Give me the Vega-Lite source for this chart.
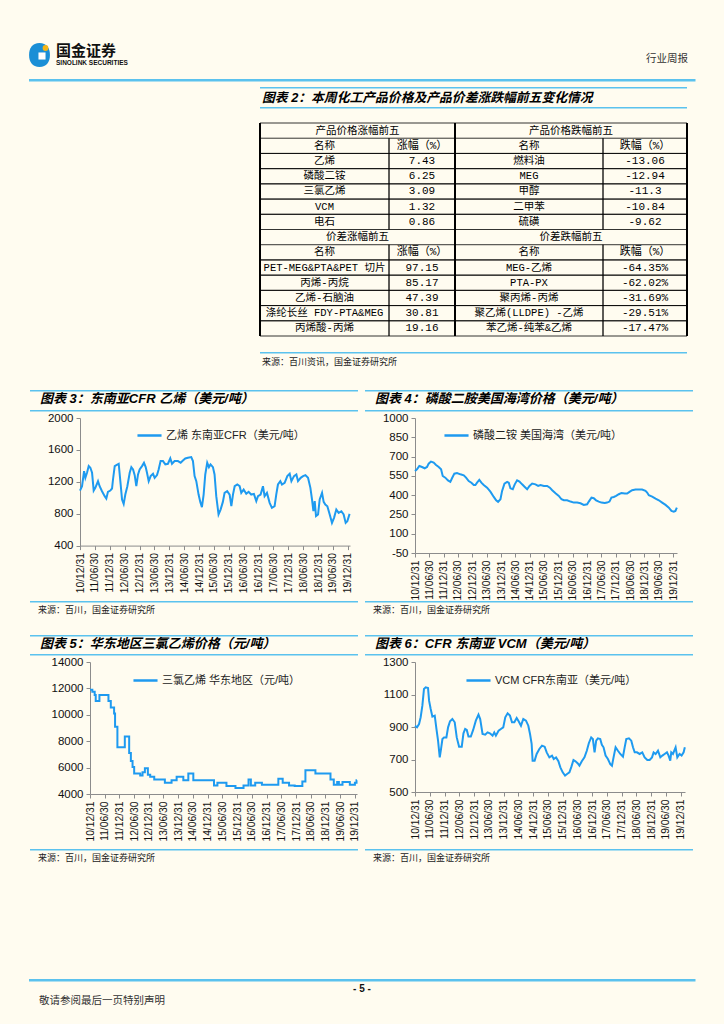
{
"$schema":"https://vega.github.io/schema/vega-lite/v6.json",
"background":"#fffcf0",
"padding":0,
"spacing":0,
"resolve":{"scale":{"color":"independent"},"legend":{"color":"independent"}},
"config":{
 "view":{"stroke":null},
 "concat":{"spacing":0},
 "axisX":{"labelFont":"Liberation Sans","labelFontSize":10.3,"labelColor":"#111","labelPadding":3,"labelOverlap":false,"labelFlush":false,"tickSize":4,"tickColor":"#8c8c8c","domainColor":"#8c8c8c","grid":false,"title":null},
 "axisY":{"labelFont":"Liberation Sans","labelFontSize":11.5,"labelColor":"#111","labelPadding":3,"labelOverlap":false,"tickSize":4,"tickColor":"#8c8c8c","domainColor":"#8c8c8c","grid":false,"title":null},
 "legend":{"title":null,"symbolType":"stroke","symbolSize":580,"symbolStrokeWidth":2.5,"labelFont":"Liberation Sans, Noto Sans CJK SC","labelFontSize":11,"labelColor":"#222","labelOffset":3,"labelLimit":300,"padding":0}
},
"datasets":{
 "tbl":[
  {"c":"n1","r":0,"sp":1,"t":"产品价格涨幅前五"},{"c":"v1","r":0,"sp":1,"t":""},{"c":"n2","r":0,"sp":1,"t":"产品价格跌幅前五"},{"c":"v2","r":0,"sp":1,"t":""},
  {"c":"n1","r":1,"sp":0,"t":"名称"},{"c":"v1","r":1,"sp":0,"t":"涨幅（%）"},{"c":"n2","r":1,"sp":0,"t":"名称"},{"c":"v2","r":1,"sp":0,"t":"跌幅（%）"},
  {"c":"n1","r":2,"sp":0,"t":"乙烯"},{"c":"v1","r":2,"sp":0,"t":"7.43"},{"c":"n2","r":2,"sp":0,"t":"燃料油"},{"c":"v2","r":2,"sp":0,"t":"-13.06"},
  {"c":"n1","r":3,"sp":0,"t":"磷酸二铵"},{"c":"v1","r":3,"sp":0,"t":"6.25"},{"c":"n2","r":3,"sp":0,"t":"MEG"},{"c":"v2","r":3,"sp":0,"t":"-12.94"},
  {"c":"n1","r":4,"sp":0,"t":"三氯乙烯"},{"c":"v1","r":4,"sp":0,"t":"3.09"},{"c":"n2","r":4,"sp":0,"t":"甲醇"},{"c":"v2","r":4,"sp":0,"t":"-11.3"},
  {"c":"n1","r":5,"sp":0,"t":"VCM"},{"c":"v1","r":5,"sp":0,"t":"1.32"},{"c":"n2","r":5,"sp":0,"t":"二甲苯"},{"c":"v2","r":5,"sp":0,"t":"-10.84"},
  {"c":"n1","r":6,"sp":0,"t":"电石"},{"c":"v1","r":6,"sp":0,"t":"0.86"},{"c":"n2","r":6,"sp":0,"t":"硫磺"},{"c":"v2","r":6,"sp":0,"t":"-9.62"},
  {"c":"n1","r":7,"sp":1,"t":"价差涨幅前五"},{"c":"v1","r":7,"sp":1,"t":""},{"c":"n2","r":7,"sp":1,"t":"价差跌幅前五"},{"c":"v2","r":7,"sp":1,"t":""},
  {"c":"n1","r":8,"sp":0,"t":"名称"},{"c":"v1","r":8,"sp":0,"t":"涨幅（%）"},{"c":"n2","r":8,"sp":0,"t":"名称"},{"c":"v2","r":8,"sp":0,"t":"跌幅（%）"},
  {"c":"n1","r":9,"sp":0,"t":"PET-MEG&PTA&PET 切片"},{"c":"v1","r":9,"sp":0,"t":"97.15"},{"c":"n2","r":9,"sp":0,"t":"MEG-乙烯"},{"c":"v2","r":9,"sp":0,"t":"-64.35%"},
  {"c":"n1","r":10,"sp":0,"t":"丙烯-丙烷"},{"c":"v1","r":10,"sp":0,"t":"85.17"},{"c":"n2","r":10,"sp":0,"t":"PTA-PX"},{"c":"v2","r":10,"sp":0,"t":"-62.02%"},
  {"c":"n1","r":11,"sp":0,"t":"乙烯-石脑油"},{"c":"v1","r":11,"sp":0,"t":"47.39"},{"c":"n2","r":11,"sp":0,"t":"聚丙烯-丙烯"},{"c":"v2","r":11,"sp":0,"t":"-31.69%"},
  {"c":"n1","r":12,"sp":0,"t":"涤纶长丝 FDY-PTA&MEG"},{"c":"v1","r":12,"sp":0,"t":"30.81"},{"c":"n2","r":12,"sp":0,"t":"聚乙烯(LLDPE) -乙烯"},{"c":"v2","r":12,"sp":0,"t":"-29.51%"},
  {"c":"n1","r":13,"sp":0,"t":"丙烯酸-丙烯"},{"c":"v1","r":13,"sp":0,"t":"19.16"},{"c":"n2","r":13,"sp":0,"t":"苯乙烯-纯苯&乙烯"},{"c":"v2","r":13,"sp":0,"t":"-17.47%"}
 ],
 "c3":[
  {"d":"2010/12/31","v":1090},{"d":"2011/01/25","v":1145},{"d":"2011/02/19","v":1334},{"d":"2011/03/07","v":1250},{"d":"2011/03/27","v":1313},{"d":"2011/04/17","v":1397},{"d":"2011/05/07","v":1376},{"d":"2011/05/28","v":1313},{"d":"2011/06/17","v":1090},{"d":"2011/07/07","v":1124},{"d":"2011/08/09","v":1208},{"d":"2011/08/29","v":1145},{"d":"2011/09/27","v":1082},{"d":"2011/10/30","v":1020},{"d":"2011/11/19","v":990},{"d":"2011/12/09","v":1074},
  {"d":"2012/01/07","v":1090},{"d":"2012/01/28","v":1116},{"d":"2012/02/09","v":1229},{"d":"2012/03/01","v":1397},{"d":"2012/03/21","v":1409},{"d":"2012/04/19","v":1426},{"d":"2012/05/09","v":1208},{"d":"2012/05/30","v":978},{"d":"2012/06/19","v":923},{"d":"2012/07/09","v":1040},{"d":"2012/08/03","v":1145},{"d":"2012/09/01","v":1313},{"d":"2012/09/21","v":1384},{"d":"2012/10/12","v":1355},{"d":"2012/11/01","v":1284},{"d":"2012/11/21","v":1145},{"d":"2012/12/12","v":1292},
  {"d":"2013/01/01","v":1355},{"d":"2013/01/30","v":1397},{"d":"2013/02/23","v":1439},{"d":"2013/03/16","v":1384},{"d":"2013/04/01","v":1313},{"d":"2013/04/22","v":1208},{"d":"2013/05/16","v":1271},{"d":"2013/06/14","v":1300},{"d":"2013/07/04","v":1250},{"d":"2013/08/02","v":1284},{"d":"2013/08/22","v":1355},{"d":"2013/09/15","v":1460},{"d":"2013/10/14","v":1460},{"d":"2013/11/12","v":1418},{"d":"2013/12/14","v":1426},
  {"d":"2014/01/12","v":1493},{"d":"2014/02/02","v":1426},{"d":"2014/03/06","v":1460},{"d":"2014/04/16","v":1460},{"d":"2014/05/19","v":1439},{"d":"2014/06/16","v":1468},{"d":"2014/07/15","v":1493},{"d":"2014/08/16","v":1501},{"d":"2014/09/26","v":1510},{"d":"2014/10/17","v":1460},{"d":"2014/11/06","v":1271},{"d":"2014/11/27","v":1208},{"d":"2014/12/25","v":1040},
  {"d":"2015/01/15","v":948},{"d":"2015/02/04","v":881},{"d":"2015/02/25","v":1040},{"d":"2015/03/17","v":1292},{"d":"2015/04/10","v":1439},{"d":"2015/05/01","v":1384},{"d":"2015/05/21","v":1418},{"d":"2015/06/19","v":1384},{"d":"2015/07/09","v":1292},{"d":"2015/07/30","v":1020},{"d":"2015/08/27","v":791},{"d":"2015/09/21","v":852},{"d":"2015/10/19","v":948},{"d":"2015/11/09","v":1061},{"d":"2015/12/11","v":1082},
  {"d":"2016/01/10","v":1040},{"d":"2016/01/31","v":894},{"d":"2016/02/20","v":1040},{"d":"2016/03/12","v":1145},{"d":"2016/04/13","v":1166},{"d":"2016/05/12","v":1145},{"d":"2016/06/01","v":1061},{"d":"2016/06/30","v":1103},{"d":"2016/08/01","v":1049},{"d":"2016/08/30","v":1074},{"d":"2016/10/01","v":1040},{"d":"2016/11/03","v":1049},{"d":"2016/12/02","v":957},{"d":"2016/12/23","v":1020},
  {"d":"2017/01/24","v":1040},{"d":"2017/02/22","v":1145},{"d":"2017/03/14","v":1020},{"d":"2017/04/12","v":1061},{"d":"2017/05/15","v":936},{"d":"2017/06/12","v":873},{"d":"2017/07/15","v":894},{"d":"2017/08/04","v":1040},{"d":"2017/08/25","v":1166},{"d":"2017/09/23","v":1208},{"d":"2017/10/13","v":1166},{"d":"2017/11/15","v":1187},{"d":"2017/12/18","v":1271},
  {"d":"2018/01/16","v":1300},{"d":"2018/02/06","v":1208},{"d":"2018/03/10","v":1271},{"d":"2018/04/08","v":1292},{"d":"2018/04/28","v":1208},{"d":"2018/05/31","v":1250},{"d":"2018/06/29","v":1271},{"d":"2018/07/28","v":1284},{"d":"2018/08/29","v":1250},{"d":"2018/09/27","v":1124},{"d":"2018/10/17","v":978},{"d":"2018/11/03","v":831},{"d":"2018/11/19","v":957},{"d":"2018/12/05","v":770},{"d":"2018/12/30","v":791},
  {"d":"2019/01/19","v":978},{"d":"2019/02/17","v":1061},{"d":"2019/03/09","v":948},{"d":"2019/03/29","v":915},{"d":"2019/04/23","v":894},{"d":"2019/05/22","v":791},{"d":"2019/06/19","v":685},{"d":"2019/07/14","v":748},{"d":"2019/08/11","v":852},{"d":"2019/09/09","v":810},{"d":"2019/10/12","v":831},{"d":"2019/11/09","v":791},{"d":"2019/12/04","v":685},{"d":"2019/12/24","v":706},{"d":"2020/01/21","v":798}
 ],
 "c4":[
  {"d":"2010/12/31","v":588},{"d":"2011/01/25","v":601},{"d":"2011/02/24","v":627},{"d":"2011/03/30","v":619},{"d":"2011/05/03","v":609},{"d":"2011/06/02","v":619},{"d":"2011/06/23","v":645},{"d":"2011/07/22","v":661},{"d":"2011/08/26","v":653},{"d":"2011/09/25","v":635},{"d":"2011/10/29","v":619},{"d":"2011/11/28","v":601},{"d":"2011/12/19","v":549},
  {"d":"2012/01/21","v":536},{"d":"2012/02/24","v":515},{"d":"2012/03/25","v":503},{"d":"2012/04/15","v":531},{"d":"2012/05/15","v":567},{"d":"2012/06/18","v":572},{"d":"2012/07/31","v":562},{"d":"2012/09/12","v":554},{"d":"2012/10/11","v":536},{"d":"2012/11/14","v":510},{"d":"2012/12/18","v":497},
  {"d":"2013/01/17","v":479},{"d":"2013/02/07","v":479},{"d":"2013/02/28","v":497},{"d":"2013/03/29","v":518},{"d":"2013/04/24","v":497},{"d":"2013/05/24","v":479},{"d":"2013/07/06","v":458},{"d":"2013/08/17","v":427},{"d":"2013/09/29","v":386},{"d":"2013/10/29","v":360},{"d":"2013/11/23","v":347},{"d":"2013/12/23","v":368},
  {"d":"2014/01/13","v":433},{"d":"2014/02/12","v":490},{"d":"2014/03/18","v":503},{"d":"2014/04/08","v":497},{"d":"2014/04/29","v":453},{"d":"2014/05/29","v":446},{"d":"2014/06/23","v":484},{"d":"2014/07/23","v":515},{"d":"2014/08/22","v":505},{"d":"2014/09/25","v":484},{"d":"2014/10/29","v":464},{"d":"2014/11/28","v":446},{"d":"2014/12/28","v":472},
  {"d":"2015/01/31","v":490},{"d":"2015/03/14","v":484},{"d":"2015/04/17","v":472},{"d":"2015/05/17","v":479},{"d":"2015/06/29","v":472},{"d":"2015/08/10","v":472},{"d":"2015/09/13","v":458},{"d":"2015/10/13","v":438},{"d":"2015/11/24","v":414},
  {"d":"2016/01/05","v":394},{"d":"2016/02/08","v":368},{"d":"2016/03/09","v":360},{"d":"2016/04/20","v":360},{"d":"2016/06/02","v":350},{"d":"2016/07/14","v":342},{"d":"2016/08/25","v":342},{"d":"2016/10/07","v":337},{"d":"2016/11/18","v":324},{"d":"2016/12/31","v":329},
  {"d":"2017/01/21","v":350},{"d":"2017/02/24","v":381},{"d":"2017/03/25","v":376},{"d":"2017/04/24","v":360},{"d":"2017/05/28","v":350},{"d":"2017/07/01","v":342},{"d":"2017/08/12","v":339},{"d":"2017/09/11","v":342},{"d":"2017/10/11","v":350},{"d":"2017/11/05","v":381},{"d":"2017/12/05","v":386},
  {"d":"2018/01/04","v":394},{"d":"2018/02/07","v":407},{"d":"2018/03/13","v":417},{"d":"2018/04/24","v":412},{"d":"2018/05/24","v":412},{"d":"2018/06/23","v":425},{"d":"2018/07/27","v":438},{"d":"2018/09/08","v":443},{"d":"2018/10/20","v":443},{"d":"2018/12/01","v":443},
  {"d":"2019/01/13","v":433},{"d":"2019/02/03","v":420},{"d":"2019/02/24","v":399},{"d":"2019/04/08","v":389},{"d":"2019/05/21","v":373},{"d":"2019/07/02","v":360},{"d":"2019/08/13","v":342},{"d":"2019/09/25","v":324},{"d":"2019/11/06","v":303},{"d":"2019/12/09","v":277},{"d":"2020/01/08","v":272},{"d":"2020/01/29","v":277},{"d":"2020/02/16","v":303}
 ],
 "c5":[
  {"d":"2010/12/31","v":11900},{"d":"2011/01/29","v":11750},{"d":"2011/02/27","v":11500},{"d":"2011/03/12","v":11050},{"d":"2011/04/27","v":11500},{"d":"2011/08/17","v":11050},{"d":"2011/09/15","v":10550},{"d":"2011/10/26","v":10100},{"d":"2011/11/07","v":9100},{"d":"2011/12/06","v":7550},
  {"d":"2012/03/07","v":8350},{"d":"2012/04/30","v":7100},{"d":"2012/05/21","v":6500},{"d":"2012/06/11","v":6050},{"d":"2012/07/01","v":5550},{"d":"2012/09/14","v":5400},{"d":"2012/10/13","v":5650},{"d":"2012/11/11","v":5950},{"d":"2012/12/18","v":5450},
  {"d":"2013/01/16","v":5300},{"d":"2013/03/07","v":5100},{"d":"2013/07/17","v":4850},{"d":"2013/10/08","v":5050},{"d":"2013/12/10","v":5300},
  {"d":"2014/03/03","v":5050},{"d":"2014/05/04","v":5550},{"d":"2014/07/05","v":5050},
  {"d":"2015/03/19","v":4650},{"d":"2015/04/30","v":4850},{"d":"2015/08/20","v":4600},{"d":"2015/12/10","v":4450},
  {"d":"2016/03/19","v":4650},{"d":"2016/05/20","v":5100},{"d":"2016/06/18","v":4650},{"d":"2016/08/11","v":4850},{"d":"2016/11/02","v":4700},
  {"d":"2017/05/25","v":5150},{"d":"2017/07/18","v":4850},{"d":"2017/10/05","v":4650},{"d":"2017/12/14","v":4600},
  {"d":"2018/03/19","v":4950},{"d":"2018/04/26","v":5800},{"d":"2018/08/28","v":5550},
  {"d":"2019/03/03","v":5100},{"d":"2019/04/13","v":4700},{"d":"2019/05/25","v":4900},{"d":"2019/06/15","v":4700},{"d":"2019/07/30","v":4900},{"d":"2019/10/29","v":4700},{"d":"2019/12/31","v":4850},{"d":"2020/01/20","v":5050},{"d":"2020/01/25","v":5050}
 ],
 "c6":[
  {"d":"2010/12/31","v":908},{"d":"2011/01/25","v":898},{"d":"2011/02/19","v":918},{"d":"2011/03/11","v":960},{"d":"2011/04/01","v":1031},{"d":"2011/04/21","v":1134},{"d":"2011/05/12","v":1144},{"d":"2011/06/10","v":1140},{"d":"2011/06/23","v":1062},{"d":"2011/07/13","v":1011},{"d":"2011/08/03","v":964},{"d":"2011/09/01","v":970},{"d":"2011/09/22","v":888},{"d":"2011/10/12","v":816},{"d":"2011/11/02","v":713},{"d":"2011/11/18","v":765},{"d":"2011/12/05","v":826},{"d":"2011/12/25","v":836},
  {"d":"2012/01/23","v":836},{"d":"2012/02/13","v":898},{"d":"2012/03/08","v":935},{"d":"2012/04/06","v":949},{"d":"2012/05/05","v":929},{"d":"2012/05/30","v":836},{"d":"2012/06/28","v":779},{"d":"2012/07/31","v":779},{"d":"2012/08/21","v":861},{"d":"2012/09/11","v":888},{"d":"2012/10/01","v":882},{"d":"2012/10/22","v":841},{"d":"2012/11/20","v":841},{"d":"2012/12/19","v":882},
  {"d":"2013/01/21","v":939},{"d":"2013/02/23","v":976},{"d":"2013/03/16","v":949},{"d":"2013/04/14","v":857},{"d":"2013/05/17","v":853},{"d":"2013/06/15","v":867},{"d":"2013/07/14","v":861},{"d":"2013/08/16","v":847},{"d":"2013/09/06","v":867},{"d":"2013/09/26","v":847},{"d":"2013/10/29","v":877},{"d":"2013/11/27","v":888},{"d":"2013/12/26","v":898},
  {"d":"2014/01/20","v":960},{"d":"2014/02/18","v":984},{"d":"2014/03/19","v":970},{"d":"2014/04/13","v":929},{"d":"2014/05/12","v":929},{"d":"2014/06/10","v":955},{"d":"2014/07/04","v":935},{"d":"2014/08/02","v":908},{"d":"2014/08/31","v":949},{"d":"2014/10/03","v":939},{"d":"2014/11/01","v":908},{"d":"2014/11/22","v":857},{"d":"2014/12/12","v":796},{"d":"2014/12/24","v":693},
  {"d":"2015/01/18","v":693},{"d":"2015/02/12","v":734},{"d":"2015/03/17","v":765},{"d":"2015/04/19","v":785},{"d":"2015/05/22","v":779},{"d":"2015/06/16","v":744},{"d":"2015/07/19","v":713},{"d":"2015/08/21","v":724},{"d":"2015/09/11","v":703},{"d":"2015/10/10","v":713},{"d":"2015/11/08","v":689},{"d":"2015/12/02","v":652},{"d":"2015/12/31","v":621},
  {"d":"2016/01/29","v":601},{"d":"2016/02/23","v":611},{"d":"2016/03/23","v":621},{"d":"2016/04/17","v":656},{"d":"2016/05/12","v":697},{"d":"2016/06/06","v":689},{"d":"2016/07/05","v":676},{"d":"2016/07/25","v":662},{"d":"2016/08/23","v":689},{"d":"2016/09/25","v":713},{"d":"2016/10/24","v":754},{"d":"2016/11/18","v":800},{"d":"2016/12/17","v":836},
  {"d":"2017/01/07","v":826},{"d":"2017/01/28","v":744},{"d":"2017/02/17","v":816},{"d":"2017/03/10","v":830},{"d":"2017/04/08","v":826},{"d":"2017/04/28","v":791},{"d":"2017/05/19","v":775},{"d":"2017/06/13","v":724},{"d":"2017/07/12","v":703},{"d":"2017/08/10","v":672},{"d":"2017/08/31","v":662},{"d":"2017/09/24","v":724},{"d":"2017/10/15","v":775},{"d":"2017/11/13","v":754},{"d":"2017/12/12","v":734},
  {"d":"2018/01/14","v":717},{"d":"2018/02/04","v":775},{"d":"2018/02/24","v":826},{"d":"2018/03/29","v":830},{"d":"2018/04/27","v":816},{"d":"2018/05/18","v":775},{"d":"2018/06/08","v":744},{"d":"2018/07/06","v":744},{"d":"2018/08/08","v":734},{"d":"2018/09/10","v":744},{"d":"2018/10/09","v":713},{"d":"2018/11/11","v":697},{"d":"2018/12/10","v":697},
  {"d":"2019/01/08","v":713},{"d":"2019/01/28","v":744},{"d":"2019/02/22","v":734},{"d":"2019/03/23","v":754},{"d":"2019/04/21","v":713},{"d":"2019/05/16","v":724},{"d":"2019/06/13","v":734},{"d":"2019/07/12","v":744},{"d":"2019/08/01","v":724},{"d":"2019/08/22","v":693},{"d":"2019/09/03","v":744},{"d":"2019/09/24","v":734},{"d":"2019/10/27","v":775},{"d":"2019/11/17","v":713},{"d":"2019/12/15","v":734},{"d":"2020/01/09","v":724},{"d":"2020/02/03","v":744},{"d":"2020/02/18","v":775}
 ]
},
"vconcat":[
 {"width":724,"height":42.5,"data":{"values":[]},"mark":"point"},
 {"hconcat":[
   {"width":28.5,"height":24,"data":{"values":[]},"mark":"point"},
   {"width":21,"height":24,"data":{"values":[{"k":"logo"}]},"layer":[
     {"mark":{"type":"point","shape":"M0,-1C0.6,-1 0.87,-0.55 0.87,0C0.87,0.55 0.6,1 0,1C-0.6,1 -0.87,0.55 -0.87,0C-0.87,-0.55 -0.6,-1 0,-1Z","size":576,"filled":true,"color":"#1b8fd6","opacity":1},"encoding":{}},
     {"mark":{"type":"point","shape":"square","size":50,"filled":true,"color":"#ffffff","opacity":1,"xOffset":2.5,"yOffset":1},"encoding":{}},
     {"mark":{"type":"point","shape":"circle","size":34,"filled":true,"color":"#f4b517","opacity":1,"xOffset":6,"yOffset":-7},"encoding":{}}
   ]},
   {"width":5.5,"height":24,"data":{"values":[]},"mark":"point"},
   {"width":85,"height":24,"data":{"values":[{"a":"国金证券","b":"SINOLINK SECURITIES"}]},"layer":[
     {"mark":{"type":"text","align":"left","baseline":"middle","dy":-4.5,"font":"Noto Sans CJK SC","fontSize":15,"fontWeight":"bold","color":"#111"},"encoding":{"text":{"field":"a"},"x":{"datum":0,"type":"quantitative","scale":{"domain":[0,1]},"axis":null}}},
     {"mark":{"type":"text","align":"left","baseline":"middle","dy":7.5,"font":"Liberation Sans","fontSize":6.5,"fontWeight":"bold","color":"#111"},"encoding":{"text":{"field":"b"},"x":{"datum":0,"type":"quantitative","scale":{"domain":[0,1]},"axis":null}}}
   ]},
   {"width":487,"height":24,"data":{"values":[]},"mark":"point"},
   {"width":60,"height":24,"data":{"values":[{"t":"行业周报"}]},"mark":{"type":"text","align":"right","baseline":"middle","dy":4,"font":"Noto Sans CJK SC","fontSize":10.5,"color":"#333"},"encoding":{"text":{"field":"t"},"x":{"datum":1,"type":"quantitative","scale":{"domain":[0,1]},"axis":null}}},
   {"width":37,"height":24,"data":{"values":[]},"mark":"point"}
 ],"spacing":0,"bounds":"flush"},
 {"width":724,"height":11.5,"data":{"values":[]},"mark":"point"},
 {"hconcat":[
   {"width":28.5,"height":2.5,"data":{"values":[]},"mark":"point"},
   {"width":666.5,"height":2.5,"data":{"values":[{}]},"mark":{"type":"rect","color":"#5bc2ee"},"encoding":{}},
   {"width":29,"height":2.5,"data":{"values":[]},"mark":"point"}
 ],"spacing":0,"bounds":"flush"},
 {"width":724,"height":5,"data":{"values":[]},"mark":"point"},
 {"hconcat":[
   {"width":260,"height":1.5,"data":{"values":[]},"mark":"point"},
   {"width":427,"height":1.5,"data":{"values":[{}]},"mark":{"type":"rect","color":"#5bc2ee"},"encoding":{}},
   {"width":37,"height":1.5,"data":{"values":[]},"mark":"point"}
 ],"spacing":0,"bounds":"flush"},
 {"hconcat":[
   {"width":261.5,"height":18,"data":{"values":[]},"mark":"point"},
   {"width":425.5,"height":18,"data":{"values":[{"t":"图表 2：本周化工产品价格及产品价差涨跌幅前五变化情况"}]},"mark":{"type":"text","align":"left","baseline":"middle","font":"Liberation Sans, Noto Sans CJK SC","fontSize":12.8,"fontWeight":"bold","fontStyle":"italic","color":"#000"},"encoding":{"text":{"field":"t"},"x":{"datum":0,"type":"quantitative","scale":{"domain":[0,1]},"axis":null}}},
   {"width":37,"height":18,"data":{"values":[]},"mark":"point"}
 ],"spacing":0,"bounds":"flush"},
 {"hconcat":[
   {"width":260,"height":1.5,"data":{"values":[]},"mark":"point"},
   {"width":427,"height":1.5,"data":{"values":[{}]},"mark":{"type":"rect","color":"#5bc2ee"},"encoding":{}},
   {"width":37,"height":1.5,"data":{"values":[]},"mark":"point"}
 ],"spacing":0,"bounds":"flush"},
 {"width":724,"height":12.5,"data":{"values":[]},"mark":"point"},
 {"hconcat":[
   {"width":259.5,"height":213,"data":{"values":[]},"mark":"point"},
   {"width":129,"height":213,"data":{"name":"tbl"},"transform":[{"filter":"datum.c == 'n1'"}],"layer":[
     {"transform":[{"filter":"datum.sp == 0"}],"mark":{"type":"rect","fill":"transparent","stroke":"#000","strokeWidth":0.8},"encoding":{"y":{"field":"r","type":"ordinal","scale":{"domain":[0,1,2,3,4,5,6,7,8,9,10,11,12,13],"paddingInner":0,"paddingOuter":0},"axis":null}}},
     {"transform":[{"filter":"datum.r == 0"}],"mark":{"type":"rule","color":"#000","strokeWidth":0.8},"encoding":{"y":{"field":"r","type":"ordinal","bandPosition":0,"axis":null}}},
     {"mark":{"type":"rule","color":"#000","strokeWidth":0.8},"encoding":{"x":{"datum":0,"type":"quantitative","scale":{"domain":[0,1]},"axis":null}}},
     {"transform":[{"filter":"datum.sp == 0"}],"mark":{"type":"text","font":"Liberation Mono, Noto Sans CJK SC","fontSize":10.5,"color":"#000"},"encoding":{"y":{"field":"r","type":"ordinal","axis":null},"text":{"field":"t"}}},
     {"transform":[{"filter":"datum.sp == 1"}],"mark":{"type":"text","font":"Noto Sans CJK SC","fontSize":10.5,"color":"#000","dx":33},"encoding":{"y":{"field":"r","type":"ordinal","axis":null},"text":{"field":"t"}}}
   ]},
   {"width":66,"height":213,"data":{"name":"tbl"},"transform":[{"filter":"datum.c == 'v1'"}],"layer":[
     {"transform":[{"filter":"datum.sp == 0"}],"mark":{"type":"rect","fill":"transparent","stroke":"#000","strokeWidth":0.8},"encoding":{"y":{"field":"r","type":"ordinal","scale":{"domain":[0,1,2,3,4,5,6,7,8,9,10,11,12,13],"paddingInner":0,"paddingOuter":0},"axis":null}}},
     {"transform":[{"filter":"datum.r == 0"}],"mark":{"type":"rule","color":"#000","strokeWidth":0.8},"encoding":{"y":{"field":"r","type":"ordinal","bandPosition":0,"axis":null}}},
     {"transform":[{"filter":"datum.sp == 0"}],"mark":{"type":"text","font":"Liberation Mono, Noto Sans CJK SC","fontSize":11,"color":"#000"},"encoding":{"y":{"field":"r","type":"ordinal","axis":null},"text":{"field":"t"}}}
   ]},
   {"width":148,"height":213,"data":{"name":"tbl"},"transform":[{"filter":"datum.c == 'n2'"}],"layer":[
     {"transform":[{"filter":"datum.sp == 0"}],"mark":{"type":"rect","fill":"transparent","stroke":"#000","strokeWidth":0.8},"encoding":{"y":{"field":"r","type":"ordinal","scale":{"domain":[0,1,2,3,4,5,6,7,8,9,10,11,12,13],"paddingInner":0,"paddingOuter":0},"axis":null}}},
     {"transform":[{"filter":"datum.r == 0"}],"mark":{"type":"rule","color":"#000","strokeWidth":0.8},"encoding":{"y":{"field":"r","type":"ordinal","bandPosition":0,"axis":null}}},
     {"mark":{"type":"rule","color":"#000","strokeWidth":0.8},"encoding":{"x":{"datum":0,"type":"quantitative","scale":{"domain":[0,1]},"axis":null}}},
     {"transform":[{"filter":"datum.sp == 0"}],"mark":{"type":"text","font":"Liberation Mono, Noto Sans CJK SC","fontSize":10.5,"color":"#000"},"encoding":{"y":{"field":"r","type":"ordinal","axis":null},"text":{"field":"t"}}},
     {"transform":[{"filter":"datum.sp == 1"}],"mark":{"type":"text","font":"Noto Sans CJK SC","fontSize":10.5,"color":"#000","dx":42},"encoding":{"y":{"field":"r","type":"ordinal","axis":null},"text":{"field":"t"}}}
   ]},
   {"width":84,"height":213,"data":{"name":"tbl"},"transform":[{"filter":"datum.c == 'v2'"}],"layer":[
     {"transform":[{"filter":"datum.sp == 0"}],"mark":{"type":"rect","fill":"transparent","stroke":"#000","strokeWidth":0.8},"encoding":{"y":{"field":"r","type":"ordinal","scale":{"domain":[0,1,2,3,4,5,6,7,8,9,10,11,12,13],"paddingInner":0,"paddingOuter":0},"axis":null}}},
     {"transform":[{"filter":"datum.r == 0"}],"mark":{"type":"rule","color":"#000","strokeWidth":0.8},"encoding":{"y":{"field":"r","type":"ordinal","bandPosition":0,"axis":null}}},
     {"mark":{"type":"rule","color":"#000","strokeWidth":0.8},"encoding":{"x":{"datum":1,"type":"quantitative","scale":{"domain":[0,1]},"axis":null}}},
     {"transform":[{"filter":"datum.sp == 0"}],"mark":{"type":"text","font":"Liberation Mono, Noto Sans CJK SC","fontSize":11,"color":"#000"},"encoding":{"y":{"field":"r","type":"ordinal","axis":null},"text":{"field":"t"}}}
   ]},
   {"width":37.5,"height":213,"data":{"values":[]},"mark":"point"}
 ],"spacing":0,"bounds":"flush"},
 {"width":724,"height":14.2,"data":{"values":[]},"mark":"point"},
 {"hconcat":[
   {"width":260,"height":1.5,"data":{"values":[]},"mark":"point"},
   {"width":427,"height":1.5,"data":{"values":[{}]},"mark":{"type":"rect","color":"#5bc2ee"},"encoding":{}},
   {"width":37,"height":1.5,"data":{"values":[]},"mark":"point"}
 ],"spacing":0,"bounds":"flush"},
 {"hconcat":[
   {"width":261.5,"height":16.5,"data":{"values":[]},"mark":"point"},
   {"width":425.5,"height":16.5,"data":{"values":[{"t":"来源：百川资讯，国金证券研究所"}]},"mark":{"type":"text","align":"left","baseline":"middle","font":"Noto Sans CJK SC","fontSize":9,"color":"#222"},"encoding":{"text":{"field":"t"},"x":{"datum":0,"type":"quantitative","scale":{"domain":[0,1]},"axis":null}}},
   {"width":37,"height":16.5,"data":{"values":[]},"mark":"point"}
 ],"spacing":0,"bounds":"flush"},
 {"width":724,"height":18.5,"data":{"values":[]},"mark":"point"},
 {"hconcat":[
   {"width":30,"height":1.5,"data":{"values":[]},"mark":"point"},
   {"width":328,"height":1.5,"data":{"values":[{}]},"mark":{"type":"rect","color":"#5bc2ee"},"encoding":{}},
   {"width":7,"height":1.5,"data":{"values":[]},"mark":"point"},
   {"width":328,"height":1.5,"data":{"values":[{}]},"mark":{"type":"rect","color":"#5bc2ee"},"encoding":{}},
   {"width":31,"height":1.5,"data":{"values":[]},"mark":"point"}
 ],"spacing":0,"bounds":"flush"},
 {"hconcat":[
   {"width":40,"height":13,"data":{"values":[]},"mark":"point"},
   {"width":335,"height":13,"data":{"values":[{"t":"图表 3：东南亚CFR 乙烯（美元/吨）"}]},"mark":{"type":"text","align":"left","baseline":"middle","font":"Liberation Sans, Noto Sans CJK SC","fontSize":13,"fontWeight":"bold","fontStyle":"italic","color":"#000"},"encoding":{"text":{"field":"t"},"x":{"datum":0,"type":"quantitative","scale":{"domain":[0,1]},"axis":null}}},
   {"width":318,"height":13,"data":{"values":[{"t":"图表 4：磷酸二胺美国海湾价格（美元/吨）"}]},"mark":{"type":"text","align":"left","baseline":"middle","font":"Liberation Sans, Noto Sans CJK SC","fontSize":13,"fontWeight":"bold","fontStyle":"italic","color":"#000"},"encoding":{"text":{"field":"t"},"x":{"datum":0,"type":"quantitative","scale":{"domain":[0,1]},"axis":null}}},
   {"width":31,"height":13,"data":{"values":[]},"mark":"point"}
 ],"spacing":0,"bounds":"flush"},
 {"width":724,"height":3.5,"data":{"values":[]},"mark":"point"},
 {"hconcat":[
   {"width":30,"height":1.5,"data":{"values":[]},"mark":"point"},
   {"width":328,"height":1.5,"data":{"values":[{}]},"mark":{"type":"rect","color":"#5bc2ee"},"encoding":{}},
   {"width":7,"height":1.5,"data":{"values":[]},"mark":"point"},
   {"width":328,"height":1.5,"data":{"values":[{}]},"mark":{"type":"rect","color":"#5bc2ee"},"encoding":{}},
   {"width":31,"height":1.5,"data":{"values":[]},"mark":"point"}
 ],"spacing":0,"bounds":"flush"},
 {"hconcat":[
   {"width":80,"height":135,"data":{"values":[]},"mark":"point"},
   {"width":270,"height":127.6,"data":{"name":"c3"},"mark":{"type":"line","strokeWidth":2},
    "encoding":{
     "x":{"field":"d","type":"temporal","scale":{"domain":[{"year":2010,"month":12,"date":31},{"year":2020,"month":1,"date":26}],"nice":false},"axis":{"values":[{"year":2010,"month":12,"date":31},{"year":2011,"month":6,"date":30},{"year":2011,"month":12,"date":31},{"year":2012,"month":6,"date":30},{"year":2012,"month":12,"date":31},{"year":2013,"month":6,"date":30},{"year":2013,"month":12,"date":31},{"year":2014,"month":6,"date":30},{"year":2014,"month":12,"date":31},{"year":2015,"month":6,"date":30},{"year":2015,"month":12,"date":31},{"year":2016,"month":6,"date":30},{"year":2016,"month":12,"date":31},{"year":2017,"month":6,"date":30},{"year":2017,"month":12,"date":31},{"year":2018,"month":6,"date":30},{"year":2018,"month":12,"date":31},{"year":2019,"month":6,"date":30},{"year":2019,"month":12,"date":31}],"format":"%y/%m/%d","labelAngle":270}},
     "y":{"field":"v","type":"quantitative","scale":{"domain":[400,2000],"nice":false,"zero":false},"axis":{"values":[400,800,1200,1600,2000],"labelExpr":"'' + datum.value"}},
     "color":{"datum":"乙烯 东南亚CFR（美元/吨）","scale":{"range":["#1e9af0"]},"legend":{"orient":"none","legendX":56,"legendY":4}}
    }},
   {"width":65,"height":135,"data":{"values":[]},"mark":"point"},
   {"width":262,"height":135,"data":{"name":"c4"},"mark":{"type":"line","strokeWidth":2},
    "encoding":{
     "x":{"field":"d","type":"temporal","scale":{"domain":[{"year":2010,"month":12,"date":31},{"year":2020,"month":2,"date":18}],"nice":false},"axis":{"values":[{"year":2010,"month":12,"date":31},{"year":2011,"month":6,"date":30},{"year":2011,"month":12,"date":31},{"year":2012,"month":6,"date":30},{"year":2012,"month":12,"date":31},{"year":2013,"month":6,"date":30},{"year":2013,"month":12,"date":31},{"year":2014,"month":6,"date":30},{"year":2014,"month":12,"date":31},{"year":2015,"month":6,"date":30},{"year":2015,"month":12,"date":31},{"year":2016,"month":6,"date":30},{"year":2016,"month":12,"date":31},{"year":2017,"month":6,"date":30},{"year":2017,"month":12,"date":31},{"year":2018,"month":6,"date":30},{"year":2018,"month":12,"date":31},{"year":2019,"month":6,"date":30},{"year":2019,"month":12,"date":31}],"format":"%y/%m/%d","labelAngle":270}},
     "y":{"field":"v","type":"quantitative","scale":{"domain":[-50,1000],"nice":false,"zero":false},"axis":{"values":[-50,100,250,400,550,700,850,1000],"labelExpr":"'' + datum.value"}},
     "color":{"datum":"磷酸二铵 美国海湾（美元/吨）","scale":{"range":["#1e9af0"]},"legend":{"orient":"none","legendX":28,"legendY":4}}
    }},
   {"width":47,"height":135,"data":{"values":[]},"mark":"point"}
 ],"spacing":0,"bounds":"flush","resolve":{"scale":{"color":"independent"},"legend":{"color":"independent"}}},
 {"hconcat":[
   {"width":30,"height":1.5,"data":{"values":[]},"mark":"point"},
   {"width":328,"height":1.5,"data":{"values":[{}]},"mark":{"type":"rect","color":"#5bc2ee"},"encoding":{}},
   {"width":7,"height":1.5,"data":{"values":[]},"mark":"point"},
   {"width":328,"height":1.5,"data":{"values":[{}]},"mark":{"type":"rect","color":"#5bc2ee"},"encoding":{}},
   {"width":31,"height":1.5,"data":{"values":[]},"mark":"point"}
 ],"spacing":0,"bounds":"flush"},
 {"hconcat":[
   {"width":38,"height":14,"data":{"values":[]},"mark":"point"},
   {"width":335,"height":14,"data":{"values":[{"t":"来源：百川，国金证券研究所"}]},"mark":{"type":"text","align":"left","baseline":"middle","font":"Noto Sans CJK SC","fontSize":9,"color":"#222"},"encoding":{"text":{"field":"t"},"x":{"datum":0,"type":"quantitative","scale":{"domain":[0,1]},"axis":null}}},
   {"width":320,"height":14,"data":{"values":[{"t":"来源：百川，国金证券研究所"}]},"mark":{"type":"text","align":"left","baseline":"middle","font":"Noto Sans CJK SC","fontSize":9,"color":"#222"},"encoding":{"text":{"field":"t"},"x":{"datum":0,"type":"quantitative","scale":{"domain":[0,1]},"axis":null}}},
   {"width":31,"height":14,"data":{"values":[]},"mark":"point"}
 ],"spacing":0,"bounds":"flush"},
 {"width":724,"height":17.5,"data":{"values":[]},"mark":"point"},
 {"hconcat":[
   {"width":30,"height":1.5,"data":{"values":[]},"mark":"point"},
   {"width":328,"height":1.5,"data":{"values":[{}]},"mark":{"type":"rect","color":"#5bc2ee"},"encoding":{}},
   {"width":7,"height":1.5,"data":{"values":[]},"mark":"point"},
   {"width":328,"height":1.5,"data":{"values":[{}]},"mark":{"type":"rect","color":"#5bc2ee"},"encoding":{}},
   {"width":31,"height":1.5,"data":{"values":[]},"mark":"point"}
 ],"spacing":0,"bounds":"flush"},
 {"hconcat":[
   {"width":40,"height":13,"data":{"values":[]},"mark":"point"},
   {"width":335,"height":13,"data":{"values":[{"t":"图表 5：华东地区三氯乙烯价格（元/吨）"}]},"mark":{"type":"text","align":"left","baseline":"middle","font":"Liberation Sans, Noto Sans CJK SC","fontSize":13,"fontWeight":"bold","fontStyle":"italic","color":"#000"},"encoding":{"text":{"field":"t"},"x":{"datum":0,"type":"quantitative","scale":{"domain":[0,1]},"axis":null}}},
   {"width":318,"height":13,"data":{"values":[{"t":"图表 6：CFR 东南亚 VCM（美元/吨）"}]},"mark":{"type":"text","align":"left","baseline":"middle","font":"Liberation Sans, Noto Sans CJK SC","fontSize":13,"fontWeight":"bold","fontStyle":"italic","color":"#000"},"encoding":{"text":{"field":"t"},"x":{"datum":0,"type":"quantitative","scale":{"domain":[0,1]},"axis":null}}},
   {"width":31,"height":13,"data":{"values":[]},"mark":"point"}
 ],"spacing":0,"bounds":"flush"},
 {"width":724,"height":3,"data":{"values":[]},"mark":"point"},
 {"hconcat":[
   {"width":30,"height":1.5,"data":{"values":[]},"mark":"point"},
   {"width":328,"height":1.5,"data":{"values":[{}]},"mark":{"type":"rect","color":"#5bc2ee"},"encoding":{}},
   {"width":7,"height":1.5,"data":{"values":[]},"mark":"point"},
   {"width":328,"height":1.5,"data":{"values":[{}]},"mark":{"type":"rect","color":"#5bc2ee"},"encoding":{}},
   {"width":31,"height":1.5,"data":{"values":[]},"mark":"point"}
 ],"spacing":0,"bounds":"flush"},
 {"hconcat":[
   {"width":90,"height":132,"data":{"values":[]},"mark":"point"},
   {"width":267,"height":132,"data":{"name":"c5"},"mark":{"type":"line","strokeWidth":2,"interpolate":"step-after"},
    "encoding":{
     "x":{"field":"d","type":"temporal","scale":{"domain":[{"year":2010,"month":12,"date":31},{"year":2020,"month":1,"date":26}],"nice":false},"axis":{"values":[{"year":2010,"month":12,"date":31},{"year":2011,"month":6,"date":30},{"year":2011,"month":12,"date":31},{"year":2012,"month":6,"date":30},{"year":2012,"month":12,"date":31},{"year":2013,"month":6,"date":30},{"year":2013,"month":12,"date":31},{"year":2014,"month":6,"date":30},{"year":2014,"month":12,"date":31},{"year":2015,"month":6,"date":30},{"year":2015,"month":12,"date":31},{"year":2016,"month":6,"date":30},{"year":2016,"month":12,"date":31},{"year":2017,"month":6,"date":30},{"year":2017,"month":12,"date":31},{"year":2018,"month":6,"date":30},{"year":2018,"month":12,"date":31},{"year":2019,"month":6,"date":30},{"year":2019,"month":12,"date":31}],"format":"%y/%m/%d","labelAngle":270}},
     "y":{"field":"v","type":"quantitative","scale":{"domain":[4000,14000],"nice":false,"zero":false},"axis":{"values":[4000,6000,8000,10000,12000,14000],"labelExpr":"'' + datum.value"}},
     "color":{"datum":"三氯乙烯 华东地区（元/吨）","scale":{"range":["#1e9af0"]},"legend":{"orient":"none","legendX":42,"legendY":5}}
    }},
   {"width":58,"height":132,"data":{"values":[]},"mark":"point"},
   {"width":270,"height":130,"data":{"name":"c6"},"mark":{"type":"line","strokeWidth":2},
    "encoding":{
     "x":{"field":"d","type":"temporal","scale":{"domain":[{"year":2010,"month":12,"date":31},{"year":2020,"month":2,"date":20}],"nice":false},"axis":{"values":[{"year":2010,"month":12,"date":31},{"year":2011,"month":6,"date":30},{"year":2011,"month":12,"date":31},{"year":2012,"month":6,"date":30},{"year":2012,"month":12,"date":31},{"year":2013,"month":6,"date":30},{"year":2013,"month":12,"date":31},{"year":2014,"month":6,"date":30},{"year":2014,"month":12,"date":31},{"year":2015,"month":6,"date":30},{"year":2015,"month":12,"date":31},{"year":2016,"month":6,"date":30},{"year":2016,"month":12,"date":31},{"year":2017,"month":6,"date":30},{"year":2017,"month":12,"date":31},{"year":2018,"month":6,"date":30},{"year":2018,"month":12,"date":31},{"year":2019,"month":6,"date":30},{"year":2019,"month":12,"date":31}],"format":"%y/%m/%d","labelAngle":270}},
     "y":{"field":"v","type":"quantitative","scale":{"domain":[500,1300],"nice":false,"zero":false},"axis":{"values":[500,700,900,1100,1300],"labelExpr":"'' + datum.value"}},
     "color":{"datum":"VCM CFR东南亚（美元/吨）","scale":{"range":["#1e9af0"]},"legend":{"orient":"none","legendX":50,"legendY":5}}
    }},
   {"width":39,"height":132,"data":{"values":[]},"mark":"point"}
 ],"spacing":0,"bounds":"flush","resolve":{"scale":{"color":"independent"},"legend":{"color":"independent"}}},
 {"width":724,"height":6.4,"data":{"values":[]},"mark":"point"},
 {"hconcat":[
   {"width":30,"height":1.5,"data":{"values":[]},"mark":"point"},
   {"width":328,"height":1.5,"data":{"values":[{}]},"mark":{"type":"rect","color":"#5bc2ee"},"encoding":{}},
   {"width":7,"height":1.5,"data":{"values":[]},"mark":"point"},
   {"width":328,"height":1.5,"data":{"values":[{}]},"mark":{"type":"rect","color":"#5bc2ee"},"encoding":{}},
   {"width":31,"height":1.5,"data":{"values":[]},"mark":"point"}
 ],"spacing":0,"bounds":"flush"},
 {"hconcat":[
   {"width":38,"height":14,"data":{"values":[]},"mark":"point"},
   {"width":335,"height":14,"data":{"values":[{"t":"来源：百川，国金证券研究所"}]},"mark":{"type":"text","align":"left","baseline":"middle","font":"Noto Sans CJK SC","fontSize":9,"color":"#222"},"encoding":{"text":{"field":"t"},"x":{"datum":0,"type":"quantitative","scale":{"domain":[0,1]},"axis":null}}},
   {"width":320,"height":14,"data":{"values":[{"t":"来源：百川，国金证券研究所"}]},"mark":{"type":"text","align":"left","baseline":"middle","font":"Noto Sans CJK SC","fontSize":9,"color":"#222"},"encoding":{"text":{"field":"t"},"x":{"datum":0,"type":"quantitative","scale":{"domain":[0,1]},"axis":null}}},
   {"width":31,"height":14,"data":{"values":[]},"mark":"point"}
 ],"spacing":0,"bounds":"flush"},
 {"width":724,"height":114,"data":{"values":[]},"mark":"point"},
 {"hconcat":[
   {"width":28.5,"height":2.5,"data":{"values":[]},"mark":"point"},
   {"width":666.5,"height":2.5,"data":{"values":[{}]},"mark":{"type":"rect","color":"#5bc2ee"},"encoding":{}},
   {"width":29,"height":2.5,"data":{"values":[]},"mark":"point"}
 ],"spacing":0,"bounds":"flush"},
 {"hconcat":[
   {"width":312,"height":13,"data":{"values":[]},"mark":"point"},
   {"width":100,"height":13,"data":{"values":[{"t":"- 5 -"}]},"mark":{"type":"text","align":"center","baseline":"middle","font":"Liberation Sans","fontSize":10,"fontWeight":"bold","color":"#111"},"encoding":{"text":{"field":"t"}}},
   {"width":312,"height":13,"data":{"values":[]},"mark":"point"}
 ],"spacing":0,"bounds":"flush"},
 {"hconcat":[
   {"width":39,"height":12,"data":{"values":[]},"mark":"point"},
   {"width":300,"height":12,"data":{"values":[{"t":"敬请参阅最后一页特别声明"}]},"mark":{"type":"text","align":"left","baseline":"middle","font":"Noto Sans CJK SC","fontSize":10.5,"color":"#333"},"encoding":{"text":{"field":"t"},"x":{"datum":0,"type":"quantitative","scale":{"domain":[0,1]},"axis":null}}},
   {"width":385,"height":12,"data":{"values":[]},"mark":"point"}
 ],"spacing":0,"bounds":"flush"},
 {"width":724,"height":25.5,"data":{"values":[]},"mark":"point"}
]
}
